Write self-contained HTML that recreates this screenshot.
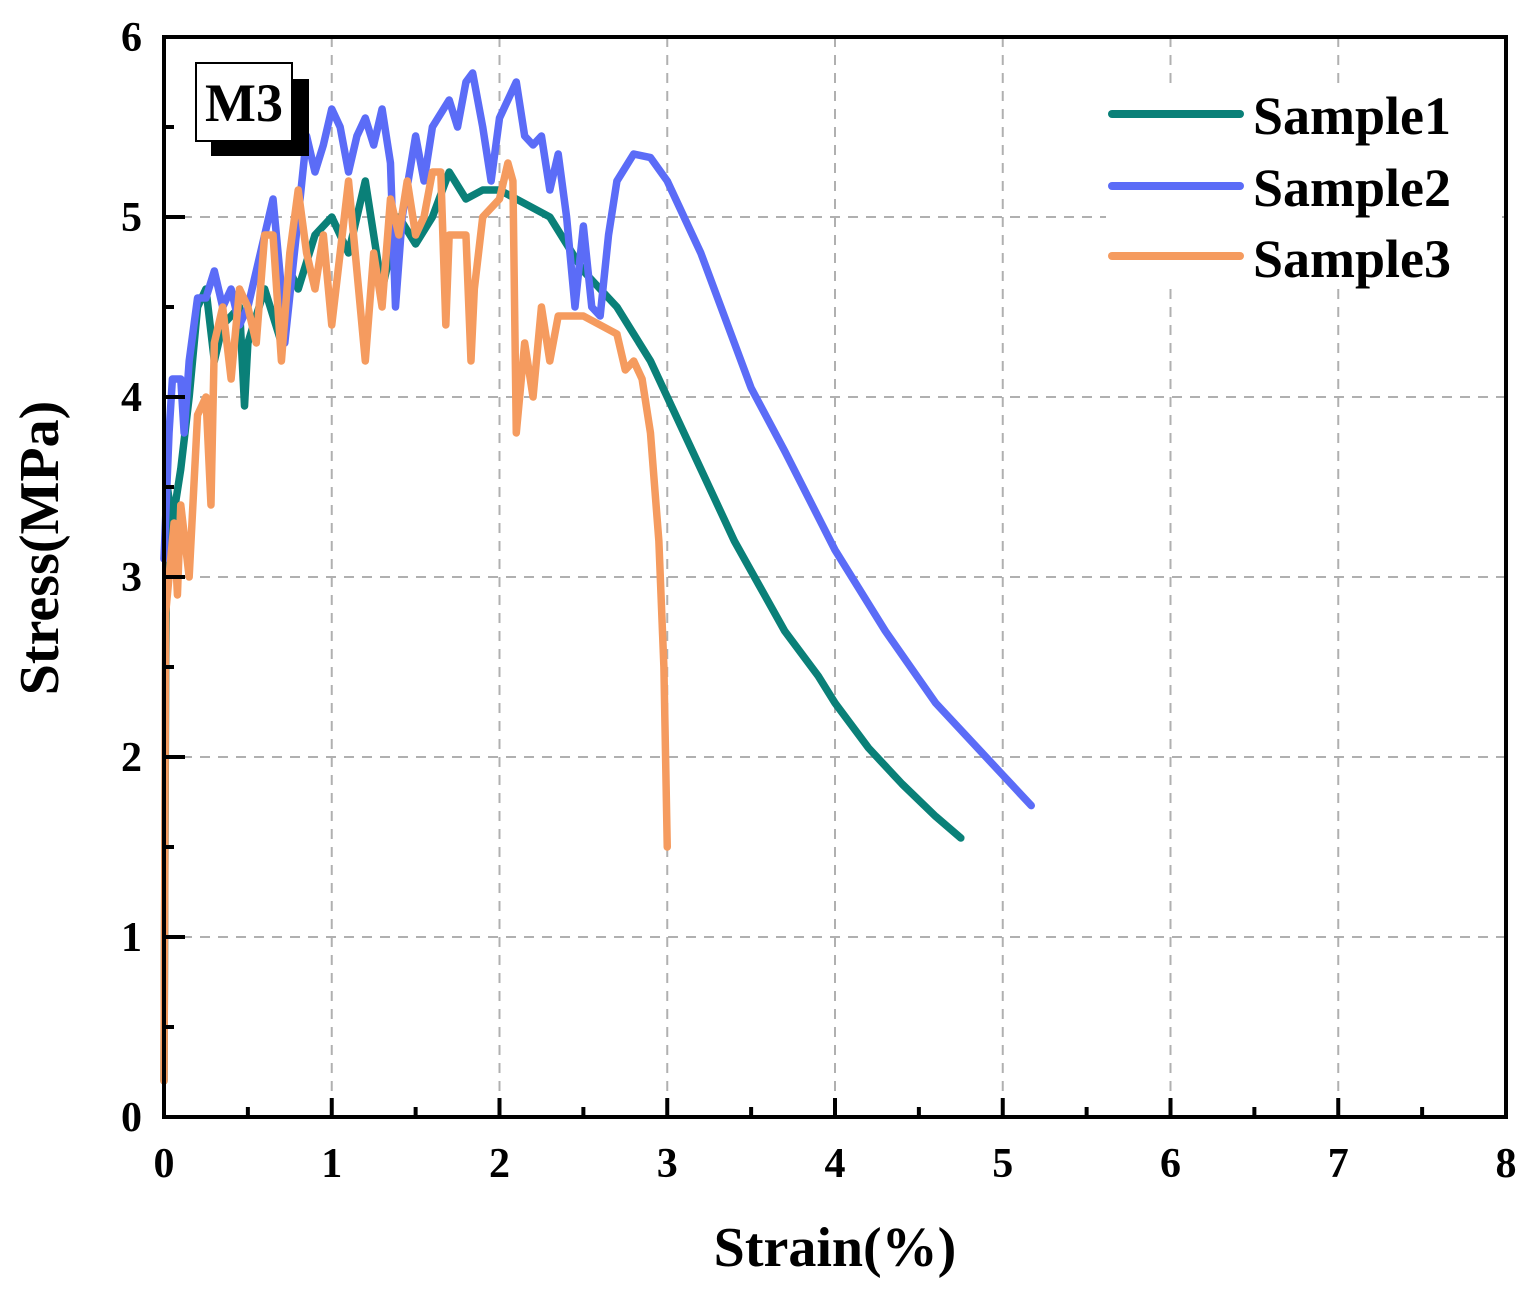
<!DOCTYPE html>
<html><head><meta charset="utf-8"><style>
html,body{margin:0;padding:0;background:#fff;}
svg text{font-family:"Liberation Serif",serif;font-weight:bold;fill:#000;}
</style></head><body>
<svg id="chart" width="1535" height="1297" viewBox="0 0 1535 1297" xmlns="http://www.w3.org/2000/svg">
<g id="grid"></g>
<g id="series"></g>
<rect x="164" y="37" width="1342" height="1080" fill="none" stroke="#000" stroke-width="4"/>
<g id="ticks"></g>
<g>
<rect x="1106" y="88" width="396" height="200" fill="#fff"/>
<g><line x1="1112" y1="114" x2="1240" y2="114" stroke="#0a8078" stroke-width="8" stroke-linecap="round"/><text x="1253" y="134" font-size="54">Sample1</text></g>
<g><line x1="1112" y1="186" x2="1240" y2="186" stroke="#5b6cf7" stroke-width="8" stroke-linecap="round"/><text x="1253" y="206" font-size="54">Sample2</text></g>
<g><line x1="1112" y1="256" x2="1240" y2="256" stroke="#f59b5f" stroke-width="8" stroke-linecap="round"/><text x="1253" y="277" font-size="54">Sample3</text></g>
</g>
<g>
<rect x="211" y="79" width="98" height="77" fill="#000"/>
<rect x="196" y="63" width="96" height="78" fill="#fff" stroke="#000" stroke-width="2"/>
<text x="244" y="121" font-size="54" text-anchor="middle">M3</text>
</g>
<text x="835" y="1266" font-size="56" text-anchor="middle">Strain(%)</text>
<text x="0" y="0" font-size="56" text-anchor="middle" transform="translate(58,548) rotate(-90)">Stress(MPa)</text>
</svg>
<script>
const xTicks=[0,1,2,3,4,5,6,7,8];
const yTicks=[0,1,2,3,4,5,6];
const s1x=[0,0.01,0.02,0.05,0.1,0.15,0.2,0.25,0.3,0.35,0.45,0.48,0.5,0.6,0.7,0.75,0.8,0.9,1.0,1.1,1.2,1.3,1.4,1.5,1.6,1.7,1.8,1.9,2.0,2.1,2.2,2.3,2.4,2.5,2.6,2.7,2.8,2.9,3.0,3.2,3.4,3.55,3.7,3.9,4.0,4.2,4.4,4.6,4.75];
const s1y=[0.2,2.5,3.5,3.3,3.6,4.0,4.5,4.6,4.2,4.4,4.5,3.95,4.3,4.6,4.3,4.7,4.6,4.9,5.0,4.8,5.2,4.6,5.0,4.85,5.0,5.25,5.1,5.15,5.15,5.1,5.05,5.0,4.85,4.7,4.6,4.5,4.35,4.2,4.0,3.6,3.2,2.95,2.7,2.45,2.3,2.05,1.85,1.67,1.55];
const s2x=[0,0.03,0.05,0.1,0.12,0.15,0.2,0.25,0.3,0.35,0.4,0.45,0.5,0.55,0.6,0.65,0.7,0.72,0.8,0.85,0.9,0.95,1.0,1.05,1.1,1.15,1.2,1.25,1.3,1.35,1.38,1.42,1.5,1.55,1.6,1.7,1.75,1.8,1.84,1.9,1.95,2.0,2.1,2.15,2.2,2.25,2.3,2.35,2.4,2.45,2.5,2.55,2.6,2.65,2.7,2.8,2.9,3.0,3.1,3.2,3.3,3.4,3.5,3.7,4.0,4.3,4.6,5.0,5.17];
const s2y=[3.1,3.8,4.1,4.1,3.8,4.2,4.55,4.55,4.7,4.5,4.6,4.4,4.5,4.7,4.9,5.1,4.6,4.3,5.0,5.45,5.25,5.4,5.6,5.5,5.25,5.45,5.55,5.4,5.6,5.3,4.5,5.0,5.45,5.2,5.5,5.65,5.5,5.75,5.8,5.5,5.2,5.55,5.75,5.45,5.4,5.45,5.15,5.35,5.0,4.5,4.95,4.5,4.45,4.9,5.2,5.35,5.33,5.2,5.0,4.8,4.55,4.3,4.05,3.7,3.15,2.7,2.3,1.9,1.73];
const s3x=[0,0.01,0.03,0.06,0.08,0.1,0.15,0.2,0.25,0.28,0.3,0.35,0.4,0.45,0.5,0.55,0.6,0.65,0.7,0.75,0.8,0.85,0.9,0.95,1.0,1.05,1.1,1.15,1.2,1.25,1.3,1.35,1.4,1.45,1.5,1.55,1.6,1.65,1.68,1.7,1.8,1.83,1.85,1.9,2.0,2.05,2.08,2.1,2.15,2.2,2.25,2.3,2.35,2.4,2.5,2.6,2.7,2.75,2.8,2.85,2.9,2.95,2.98,3.0];
const s3y=[0.2,2.8,3.0,3.3,2.9,3.4,3.0,3.9,4.0,3.4,4.3,4.5,4.1,4.6,4.5,4.3,4.9,4.9,4.2,4.8,5.15,4.8,4.6,4.9,4.4,4.8,5.2,4.7,4.2,4.8,4.5,5.1,4.9,5.2,4.9,5.0,5.25,5.25,4.4,4.9,4.9,4.2,4.6,5.0,5.1,5.3,5.2,3.8,4.3,4.0,4.5,4.2,4.45,4.45,4.45,4.4,4.35,4.15,4.2,4.1,3.8,3.2,2.5,1.5];
const NS='http://www.w3.org/2000/svg';
const X=v=>164+v*167.75, Y=v=>1117-v*180;
const grid=document.getElementById('grid'), ticks=document.getElementById('ticks'), series=document.getElementById('series');
function mk(t,a,p){const e=document.createElementNS(NS,t);for(const k in a)e.setAttribute(k,a[k]);p.appendChild(e);return e;}
xTicks.forEach(v=>{
  if(v>0&&v<8){const g=mk('line',{x1:X(v),x2:X(v),y1:37,y2:1117,stroke:'#b0b0b0','stroke-width':2,'stroke-dasharray':'10,8'},grid);
  
  }
  const t=mk('line',{x1:X(v),x2:X(v),y1:1117,y2:1098,stroke:'#000','stroke-width':4},ticks);
  
  
  if(v<8){const m=mk('line',{x1:X(v+0.5),x2:X(v+0.5),y1:1117,y2:1107,stroke:'#000','stroke-width':4},ticks);
  
  }
  const l=mk('text',{x:X(v),y:1177,'font-size':42,'text-anchor':'middle'},ticks);l.textContent=v;
  
  
});
yTicks.forEach(v=>{
  if(v>0&&v<6){const g=mk('line',{x1:164,x2:1506,y1:Y(v),y2:Y(v),stroke:'#b0b0b0','stroke-width':2,'stroke-dasharray':'10,8'},grid);
  
  }
  const t=mk('line',{x1:164,x2:185,y1:Y(v),y2:Y(v),stroke:'#000','stroke-width':4},ticks);
  
  
  if(v<6){const m=mk('line',{x1:164,x2:174,y1:Y(v+0.5),y2:Y(v+0.5),stroke:'#000','stroke-width':4},ticks);
  
  }
  const l=mk('text',{x:142,y:Y(v)+14,'font-size':42,'text-anchor':'end'},ticks);l.textContent=v;
  
  
});
[[s1x,s1y,'#0a8078','sample1-line'],[s2x,s2y,'#5b6cf7','sample2-line'],[s3x,s3y,'#f59b5f','sample3-line']].forEach(([xs,ys,c,n])=>{
  const p=mk('polyline',{points:xs.map((v,i)=>X(v)+','+Y(ys[i])).join(' '),fill:'none',stroke:c,'stroke-width':7.5,'stroke-linejoin':'round','stroke-linecap':'round'},series);
  
  
});
</script>
</body></html>
